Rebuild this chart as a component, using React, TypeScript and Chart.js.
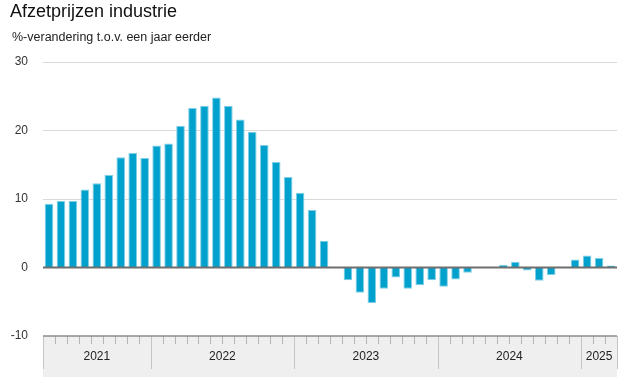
import React, { useEffect, useRef } from "react";
import { Chart, registerables } from "chart.js";

Chart.register(...registerables);

const TITLE = "Afzetprijzen industrie";
const SUBTITLE = "%-verandering t.o.v. een jaar eerder";

const MONTHS = [
  "2021-04", "2021-05", "2021-06", "2021-07", "2021-08", "2021-09", "2021-10", "2021-11", "2021-12",
  "2022-01", "2022-02", "2022-03", "2022-04", "2022-05", "2022-06", "2022-07", "2022-08", "2022-09", "2022-10", "2022-11", "2022-12",
  "2023-01", "2023-02", "2023-03", "2023-04", "2023-05", "2023-06", "2023-07", "2023-08", "2023-09", "2023-10", "2023-11", "2023-12",
  "2024-01", "2024-02", "2024-03", "2024-04", "2024-05", "2024-06", "2024-07", "2024-08", "2024-09", "2024-10", "2024-11", "2024-12",
  "2025-01", "2025-02", "2025-03",
];

const VALUES = [
  9.3, 9.7, 9.7, 11.4, 12.3, 13.5, 16.1, 16.7, 16.0,
  17.8, 18.1, 20.7, 23.3, 23.6, 24.8, 23.6, 21.6, 19.8, 17.9, 15.4, 13.2,
  10.9, 8.4, 3.9, 0, -1.85, -3.7, -5.2, -3.1, -1.45, -3.1, -2.6, -1.85,
  -2.8, -1.75, -0.75, 0, 0, 0.4, 0.85, -0.45, -1.95, -1.1, 0, 1.15,
  1.75, 1.4, 0.3,
];

const YEARS = ["2021", "2022", "2023", "2024", "2025"];

const Y_MIN = -10;
const Y_MAX = 30;
const Y_STEP = 10;

const FONT = "'Liberation Sans', Arial, sans-serif";

const bandPlugin = {
  id: "bandPlugin",
  afterDatasetsDraw(chart: any) {
    const { ctx, chartArea } = chart;
    const x = chart.scales.x;
    const y = chart.scales.y;
    const left = chartArea.left;
    const right = chartArea.right;
    const top = chartArea.bottom;
    const bottom = chart.height;
    ctx.save();
    // zero line
    const y0 = y.getPixelForValue(0);
    ctx.strokeStyle = "#6e6e6e";
    ctx.lineWidth = 2;
    ctx.beginPath();
    ctx.moveTo(left, y0);
    ctx.lineTo(right, y0);
    ctx.stroke();

    // band
    ctx.fillStyle = "#efefef";
    ctx.fillRect(left, top, right - left, bottom - top);

    const step = (x.getPixelForValue(1) - x.getPixelForValue(0));
    const edgeAt = (i: number) => x.getPixelForValue(i) - step / 2;

    // year boundaries
    const bounds: number[] = [];
    MONTHS.forEach((m, i) => {
      if (i === 0 || m.endsWith("-01")) bounds.push(i);
    });
    bounds.push(MONTHS.length);

    // month ticks
    ctx.strokeStyle = "#b4b4b4";
    ctx.lineWidth = 1;
    for (let i = 1; i < MONTHS.length; i++) {
      if (bounds.includes(i)) continue;
      const px = Math.round(edgeAt(i)) + 0.5;
      ctx.beginPath();
      ctx.moveTo(px, top);
      ctx.lineTo(px, top + 8);
      ctx.stroke();
    }
    // year dividers
    ctx.strokeStyle = "#c4c4c4";
    bounds.forEach((b) => {
      const px = Math.round(edgeAt(b)) + 0.5;
      ctx.beginPath();
      ctx.moveTo(px, top);
      ctx.lineTo(px, top + 33);
      ctx.stroke();
    });

    // top line of band
    ctx.strokeStyle = "#8c8c8c";
    ctx.lineWidth = 1.5;
    ctx.beginPath();
    ctx.moveTo(left, top);
    ctx.lineTo(right, top);
    ctx.stroke();

    // year labels
    ctx.fillStyle = "#222";
    ctx.font = `12px ${FONT}`;
    ctx.textAlign = "center";
    ctx.textBaseline = "middle";
    for (let k = 0; k < bounds.length - 1; k++) {
      const cx = (edgeAt(bounds[k]) + edgeAt(bounds[k + 1])) / 2;
      ctx.fillText(YEARS[k], cx, top + 21);
    }

    // title & subtitle
    ctx.textAlign = "left";
    ctx.textBaseline = "alphabetic";
    ctx.fillStyle = "#111";
    ctx.font = `18px ${FONT}`;
    ctx.fillText(TITLE, 10, 17);
    ctx.fillStyle = "#222";
    ctx.font = `12.5px ${FONT}`;
    ctx.fillText(SUBTITLE, 12, 41);
    ctx.restore();
  },
};

export default function App() {
  const ref = useRef<HTMLCanvasElement | null>(null);
  useEffect(() => {
    if (!ref.current) return;
    const chart = new Chart(ref.current, {
      type: "bar",
      data: {
        labels: MONTHS,
        datasets: [
          {
            data: VALUES,
            backgroundColor: "#00a1cd",
            borderColor: "#80cfe6",
            borderWidth: 1,
            borderSkipped: "start",
            categoryPercentage: 1,
            barPercentage: 0.72,
          },
        ],
      },
      options: {
        responsive: false,
        animation: false,
        layout: { padding: { left: 0, right: 10, top: 62, bottom: 41 } },
        plugins: {
          legend: { display: false },
          tooltip: { enabled: false },
          title: { display: false },
        },
        scales: {
          x: { display: false, offset: true },
          y: {
            min: Y_MIN,
            max: Y_MAX,
            afterFit(scale: any) {
              scale.width = 43;
            },
            ticks: {
              stepSize: Y_STEP,
              padding: 15,
              color: "#333",
              font: { family: FONT, size: 12 },
            },
            border: { display: false },
            grid: {
              drawTicks: false,
              color: (c: any) =>
                c.tick && (c.tick.value === 0 || c.tick.value === Y_MIN) ? "rgba(0,0,0,0)" : "#dadada",
              lineWidth: 1,
            },
          },
        },
      },
      plugins: [bandPlugin],
    });
    return () => chart.destroy();
  }, []);
  return (
    <div style={{ position: "fixed", left: 0, top: 0, width: 627, height: 377, background: "#fff" }}>
      <canvas ref={ref} width={627} height={377} style={{ width: 627, height: 377, display: "block" }} />
    </div>
  );
}
